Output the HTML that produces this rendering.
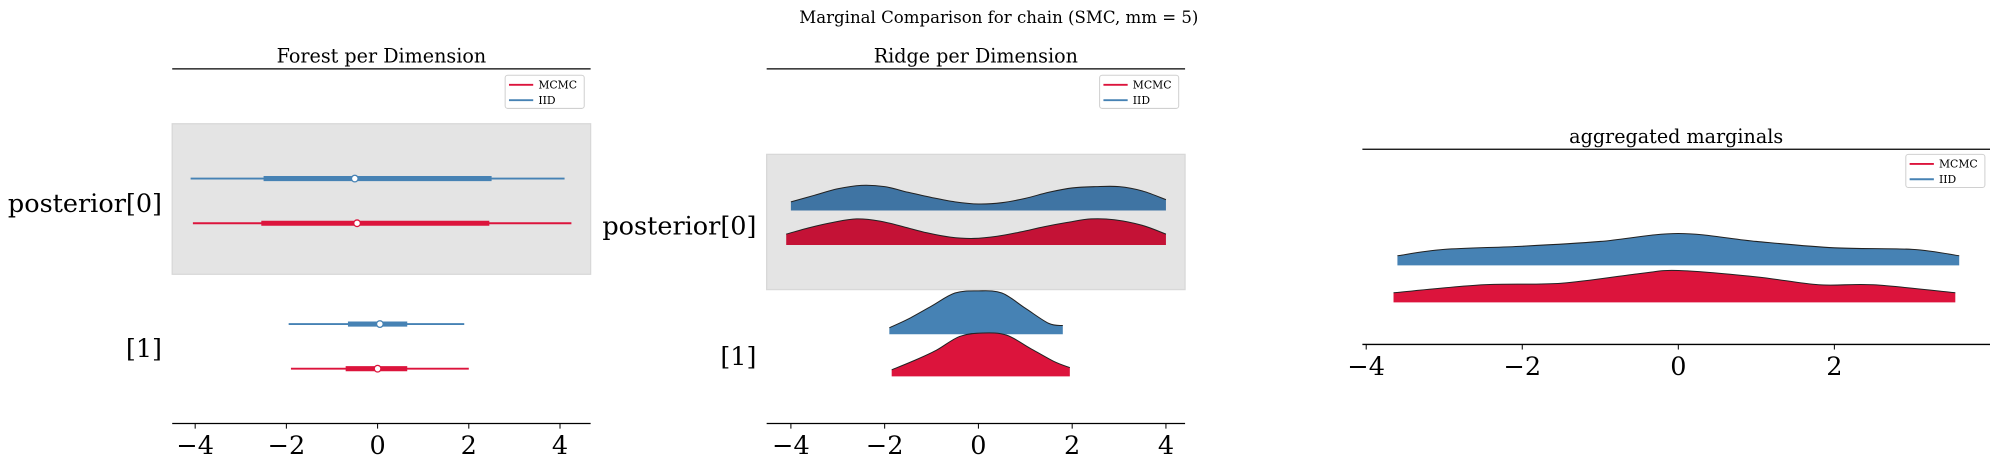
<!DOCTYPE html>
<html><head><meta charset="utf-8"><style>
html,body{margin:0;padding:0;background:#fff;}
svg{display:block;}
text{font-family:"DejaVu Serif","Liberation Serif",serif;fill:#000;}
</style></head><body>
<svg id="chart" width="1990" height="465" viewBox="0 0 1560 364.5" xmlns="http://www.w3.org/2000/svg">
<text x="783" y="18" font-size="13" text-anchor="middle">Marginal Comparison for chain (SMC, mm = 5)</text>
<g id="p1"></g>
<g id="p2"></g>
<g id="p3"></g>
</svg>
<script>
const RED = "#dc143c", BLUE = "#4682b4";
const ticks1 = [-4,-2,0,2,4];
const ticks3 = [-4,-2,0,2];
const rowLabels = ["posterior[0]","[1]"];
// forest: [whiskerLo, thickLo, median, thickHi, whiskerHi]
const forestBlue = [[-4.1,-2.5,-0.5,2.5,4.1],[-1.95,-0.65,0.05,0.65,1.9]];
const forestRed = [[-4.05,-2.55,-0.45,2.45,4.25],[-1.9,-0.7,0.0,0.65,2.0]];
// ridges
const ridge0X = [-4,-3.5,-3,-2.5,-2,-1.5,-1,-0.5,0,0.5,1,1.5,2,2.5,3,3.5,4];
const ridge0Blue = [0.2,0.35,0.5,0.58,0.55,0.42,0.3,0.2,0.15,0.18,0.28,0.42,0.52,0.55,0.55,0.45,0.25];
const ridge0RedX = [-4.1,-3.6,-3.1,-2.6,-2.1,-1.6,-1.1,-0.6,-0.1,0.4,0.9,1.4,1.9,2.4,2.9,3.5,4.0];
const ridge0Red = [0.25,0.4,0.52,0.6,0.55,0.42,0.28,0.18,0.15,0.2,0.3,0.42,0.52,0.6,0.58,0.45,0.25];
const ridge1BlueX = [-1.9,-1.5,-1,-0.5,0,0.5,1,1.5,1.8];
const ridge1Blue = [0.15,0.35,0.65,0.95,1.0,0.95,0.6,0.25,0.2];
const ridge1RedX = [-1.85,-1.4,-0.9,-0.4,0.1,0.6,1.1,1.6,1.95];
const ridge1Red = [0.15,0.35,0.6,0.92,1.0,0.95,0.65,0.35,0.2];
// aggregated
const aggBlueX = [-3.6,-3,-2,-1,0,1,2,3,3.6];
const aggBlue = [0.3,0.5,0.6,0.75,1,0.75,0.55,0.5,0.3];
const aggRedX = [-3.65,-2.5,-1.5,-0.5,0,1,1.8,2.5,3.55];
const aggRed = [0.3,0.55,0.6,0.9,1,0.8,0.55,0.55,0.3];

const NS="http://www.w3.org/2000/svg";
function mk(parent,tag,attrs,txt){const e=document.createElementNS(NS,tag);for(const k in attrs)e.setAttribute(k,attrs[k]);if(txt!==undefined)e.textContent=txt;parent.appendChild(e);return e;}
function lin(d0,d1,r0,r1){return v=>r0+(v-d0)*(r1-r0)/(d1-d0);}
function smooth(pts){let d="M"+pts[0][0]+","+pts[0][1];for(let i=0;i<pts.length-1;i++){const p0=pts[i-1]||pts[i],p1=pts[i],p2=pts[i+1],p3=pts[i+2]||p2;const c1=[p1[0]+(p2[0]-p0[0])/6,p1[1]+(p2[1]-p0[1])/6],c2=[p2[0]-(p3[0]-p1[0])/6,p2[1]-(p3[1]-p1[1])/6];d+=" C"+c1+" "+c2+" "+p2;}return d;}

function axisBottom(g,x,ticks,x0,x1,y,name){
  const ax=mk(g,"line",{x1:x0,x2:x1,y1:y,y2:y,stroke:"#000","stroke-width":1});
  
  
  ticks.forEach(t=>{
    const tl=mk(g,"line",{x1:x(t),x2:x(t),y1:y,y2:y+4,stroke:"#000","stroke-width":0.8});
    
    
    const tx=mk(g,"text",{x:x(t),y:y+24,"font-size":20,"text-anchor":"middle"},t<0?"\u2212"+(-t):String(t));
    
    
  });
}
function topLine(g,x0,x1,y,title){
  const l=mk(g,"line",{x1:x0,x2:x1,y1:y,y2:y,stroke:"#000","stroke-width":1});
  
  
  const t=mk(g,"text",{x:(x0+x1)/2,y:y-5,"font-size":15,"text-anchor":"middle"},title);
  
  
}
function legend(g,x,y){
  const lg=mk(g,"g",{});
  
  
  mk(lg,"rect",{x:x,y:y,width:62,height:26,rx:2,fill:"#fff",stroke:"#d0d0d0","stroke-width":0.8});
  [["MCMC",RED],["IID",BLUE]].forEach((s,i)=>{
    const e=mk(lg,"g",{});
    
    
    mk(e,"line",{x1:x+3,x2:x+22,y1:y+7.5+i*12,y2:y+7.5+i*12,stroke:s[1],"stroke-width":1.5});
    mk(e,"text",{x:x+26,y:y+10.5+i*12,"font-size":8.5},s[0]);
  });
}
function ylabel(g,txt,x,y){
  const t=mk(g,"text",{x:x,y:y,"font-size":20,"text-anchor":"end"},txt);
  
  
}

// Panel 1 forest
(function(){
  const g=document.getElementById("p1");
  const x=lin(-4,4,153,439);
  const bg=mk(g,"rect",{x:135,y:97,width:328,height:118,fill:"#e4e4e4",stroke:"#d8d8d8"});
  
  
  topLine(g,135,463,54,"Forest per Dimension");
  legend(g,396,59);
  const rowsY=[[140,175],[254,289]];
  [0,1].forEach(r=>{
    [[forestBlue,BLUE,0],[forestRed,RED,1]].forEach(s=>{
      const v=s[0][r],yy=rowsY[r][s[2]];
      const m=mk(g,"g",{});
      
      
      mk(m,"line",{x1:x(v[0]),x2:x(v[4]),y1:yy,y2:yy,stroke:s[1],"stroke-width":1.5});
      mk(m,"line",{x1:x(v[1]),x2:x(v[3]),y1:yy,y2:yy,stroke:s[1],"stroke-width":4});
      mk(m,"circle",{cx:x(v[2]),cy:yy,r:2.6,fill:"#fff",stroke:s[1],"stroke-width":1});
    });
  });
  ylabel(g,rowLabels[0],127,166);
  ylabel(g,rowLabels[1],127,280);
  axisBottom(g,x,ticks1,135,463,332,"forest");
})();

// Panel 2 ridge
(function(){
  const g=document.getElementById("p2");
  const x=lin(-4,4,620,914);
  const bg=mk(g,"rect",{x:601,y:121,width:328,height:106,fill:"#e4e4e4",stroke:"#d8d8d8"});
  
  
  topLine(g,601,929,54,"Ridge per Dimension");
  legend(g,862,59);
  const H=34;
  function ridge(xs,ys,base,color,name){
    const pts=xs.map((v,i)=>[x(v),base-ys[i]*H]);
    const d=smooth(pts)+" L"+x(xs[xs.length-1])+","+base+" L"+x(xs[0])+","+base+" Z";
    const p=mk(g,"path",{d:d,fill:color,stroke:"none"});
    
    
    mk(g,"path",{d:smooth(pts),fill:"none",stroke:"#222","stroke-width":0.8});
  }
  ridge(ridge0X,ridge0Blue,165,"#3f74a3","iid-ridge-0");
  ridge(ridge0RedX,ridge0Red,192,"#c41236","mcmc-ridge-0");
  ridge(ridge1BlueX,ridge1Blue,262,BLUE,"iid-ridge-1");
  ridge(ridge1RedX,ridge1Red,295,RED,"mcmc-ridge-1");
  ylabel(g,rowLabels[0],593,184);
  ylabel(g,rowLabels[1],593,286);
  axisBottom(g,x,ticks1,601,929,332,"ridge");
})();

// Panel 3 aggregated
(function(){
  const g=document.getElementById("p3");
  const x=lin(-4,2,1071,1438);
  topLine(g,1068,1560,117,"aggregated marginals");
  legend(g,1494,121);
  const H=25;
  function ridge(xs,ys,base,color,name){
    const pts=xs.map((v,i)=>[x(v),base-ys[i]*H]);
    const d=smooth(pts)+" L"+x(xs[xs.length-1])+","+base+" L"+x(xs[0])+","+base+" Z";
    const p=mk(g,"path",{d:d,fill:color,stroke:"none"});
    
    
    mk(g,"path",{d:smooth(pts),fill:"none",stroke:"#222","stroke-width":0.8});
  }
  ridge(aggBlueX,aggBlue,208,BLUE,"iid-aggregated-density");
  ridge(aggRedX,aggRed,237,RED,"mcmc-aggregated-density");
  axisBottom(g,x,ticks3,1068,1560,270,"aggregated");
})();
</script>
</body></html>
